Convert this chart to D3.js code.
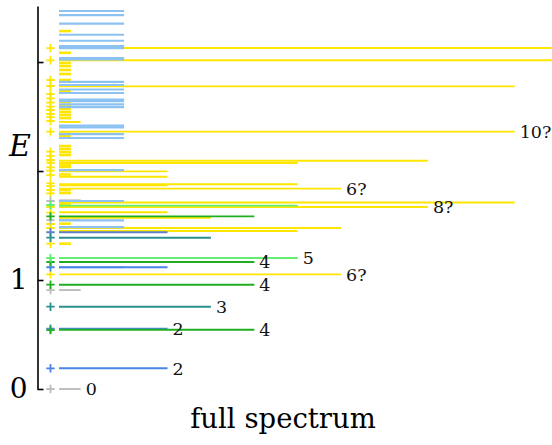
<!DOCTYPE html>
<html><head><meta charset="utf-8">
<script src="https://cdn.jsdelivr.net/npm/d3@7/dist/d3.min.js"></script>
<style>body{margin:0;background:#fff}svg{display:block}</style>
</head><body>
<script>
// ---- data ----
// level energies (E), line size g (≈ 2L+1), colour family, label
const levelE = [0.000,0.190,0.553,0.544,0.755,0.908,0.957,1.052,1.117,1.165,1.202,
  1.333,1.388,1.438,1.450,1.477,1.517,1.550,1.571,1.584,1.621,1.670,1.682,1.697,1.711,1.731,
  1.798,1.826,1.838,1.870,1.878,1.948,1.968,1.997,2.037,2.055,2.073,2.094,
  2.147,2.174,2.202,2.229,2.321,2.344,2.361,2.450,2.486,2.514,2.541,2.569,2.596,2.633,
  2.734,2.777,2.835,2.890,2.927,2.963,2.991,3.016,3.085,3.128,3.284,
  1.117,1.486,1.548,1.725,2.009,2.303,2.339,2.401,2.416,2.587,2.612,2.642,2.656,2.716,2.748,
  2.789,2.817,3.025,3.037,3.128,3.147,3.195,3.250,3.353,3.431,3.468];
const levelG = [1,5,5,9,7,1,9,13,5,9,11,
  0.55,7,5,11,13,0.55,1,7,9,5,17,11,0.55,21,1,
  0.55,0.55,13,5,11,5,0.55,5,0.55,0.55,11,17,
  0.55,0.55,0.55,0.55,0.55,0.55,21,1,0.55,0.55,0.55,0.55,0.55,0.55,
  0.55,21,0.55,0.55,0.55,0.55,0.55,25,0.55,25,0.55,
  3,3,3,3,3,3,3,3,3,3,3,3,3,3,3,
  3,3,3,3,3,3,3,3,3,3,3];
const levelC = ["gray","blue","blue","green","teal","gray","green","yellow","blue","green","lgreen",
  "yellow","teal","slate","yellow","yellow","yellow","gray","yellow","green","yellow","yellow","lgreen","yellow","yellow","gray",
  "yellow","yellow","yellow","yellow","yellow","yellow","yellow","yellow","yellow","yellow","yellow","yellow",
  "yellow","yellow","yellow","yellow","yellow","yellow","yellow","yellow","yellow","yellow","yellow","yellow","yellow","yellow",
  "yellow","yellow","yellow","yellow","yellow","yellow","yellow","yellow","yellow","yellow","yellow",
  "lblue","lblue","lblue","lblue","lblue","lblue","lblue","lblue","lblue","lblue","lblue","lblue","lblue","lblue","lblue",
  "lblue","lblue","lblue","lblue","lblue","lblue","lblue","lblue","lblue","lblue","lblue"];
const levelLabel = ["0","2","2","4","3","","4","6?","","4","5",
  "","","","","","","","","","","8?","","","","",
  "","","6?","","","","","","","","","",
  "","","","","","","10?","","","","","","","",
  "","","","","","","","","","","",
  "","","","","","","","","","","","","","","",
  "","","","","","","","","","",""];
// experimental levels (+ markers)
const markE = [0.000,0.190,0.553,0.541,0.755,0.908,0.957,1.052,1.117,1.165,1.202,
  1.333,1.388,1.438,1.477,1.514,1.550,1.584,1.619,1.670,1.688,1.725,
  1.795,1.826,1.862,1.887,1.963,2.003,2.034,2.076,2.101,2.138,2.177,
  2.361,2.459,2.495,2.523,2.560,2.590,2.627,2.667,2.706,2.780,2.835,3.016,3.128];
const markC = ["gray","blue","blue","green","teal","gray","green","yellow","blue","green","lgreen",
  "yellow","teal","slate","yellow","yellow","gray","green","yellow","yellow","lgreen","gray",
  "yellow","yellow","yellow","yellow","yellow","yellow","yellow","yellow","yellow","yellow","yellow",
  "yellow","yellow","yellow","yellow","yellow","yellow","yellow","yellow","yellow","yellow","yellow","yellow","yellow"];
const yTicks = [0,1,2,3];
const yTickLabels = ["0","1","",""];
const axisTitle = "E";
const chartTitle = "full spectrum";

// ---- styling ----
const colors = {gray:"#bdbdbd",blue:"#4a84e6",slate:"#5f7fc8",teal:"#2a9090",green:"#1fae1f",
  lgreen:"#62ee70",yellow:"#ffe600",lblue:"#8cc2f2"};
const order = ["yellow","gray","lblue","slate","blue","teal","green","lgreen"];

const W = 552, H = 445;
const svg = d3.select("body").append("svg").attr("width",W).attr("height",H);

const y = d3.scaleLinear().domain([0, 3.514]).range([389, 6]);
const xLen = d3.scaleLinear().domain([0, 25]).range([59, 59 + 25*21.7]);
const xAxisPos = 37.5, xMark = 50.5;

const levels = levelE.map((e,i)=>({e, g:levelG[i], c:levelC[i], label:levelLabel[i]}))
  .sort((a,b)=>order.indexOf(a.c)-order.indexOf(b.c));

const gL = svg.append("g");
gL.selectAll("line").data(levels).join("line")
  .attr("x1", xLen(0)).attr("x2", d=>xLen(d.g))
  .attr("y1", d=>y(d.e)).attr("y2", d=>y(d.e))
  .attr("stroke", d=>colors[d.c])
  .attr("stroke-width", d=>d.g<1 ? 2.6 : (d.c==="lblue" ? 2.2 : 1.9));

const marks = markE.map((e,i)=>({e, c:markC[i]}))
  .sort((a,b)=>order.indexOf(a.c)-order.indexOf(b.c));
svg.append("g").selectAll("path").data(marks).join("path")
  .attr("d", d=>{const yy=y(d.e); return `M${xMark-4.2},${yy}H${xMark+4.2}M${xMark},${yy-4.2}V${yy+4.2}`;})
  .attr("stroke", d=>colors[d.c]).attr("stroke-width", 1.8).attr("fill","none");

svg.append("g").selectAll("text").data(levels.filter(d=>d.label)).join("text")
  .attr("x", d=>xLen(d.g)+5).attr("y", d=>y(d.e)).attr("dy","0.36em")
  .attr("font-family","DejaVu Serif").attr("font-size",17.5).attr("fill","#111")
  .text(d=>d.label);

const axis = d3.axisLeft(y).tickValues(yTicks).tickSizeInner(-6).tickSizeOuter(0).tickPadding(10)
  .tickFormat((d,i)=>yTickLabels[i]);
const ga = svg.append("g").attr("transform",`translate(${xAxisPos},0)`).call(axis);
ga.select(".domain").attr("stroke","#000").attr("stroke-width",1.6);
ga.selectAll(".tick line").attr("stroke","#000").attr("stroke-width",1.6);
ga.selectAll(".tick text").attr("font-family","DejaVu Serif").attr("font-size",28).attr("fill","#000");

svg.append("text").attr("x",20).attr("y",145).attr("dy","0.36em").attr("text-anchor","middle")
  .attr("font-family","DejaVu Serif").attr("font-style","italic").attr("font-size",30).text(axisTitle);

svg.append("text").attr("x",283).attr("y",428).attr("text-anchor","middle")
  .attr("font-family","DejaVu Serif").attr("font-size",27.5).text(chartTitle);
</script>
</body></html>
